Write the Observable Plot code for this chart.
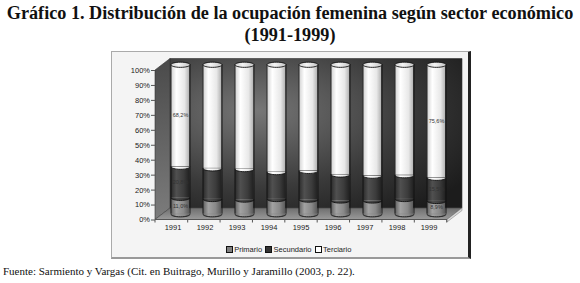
<!DOCTYPE html>
<html><head><meta charset="utf-8">
<script src="https://cdn.jsdelivr.net/npm/d3@7"></script>
<script src="https://cdn.jsdelivr.net/npm/@observablehq/plot@0.6"></script>
<style>
body{margin:0;width:580px;height:283px;background:#fff;position:relative;overflow:hidden;font-family:"Liberation Serif",serif;}
#title{position:absolute;left:0;top:2px;width:580px;text-align:center;font-weight:bold;font-size:17px;line-height:22px;color:#111;white-space:nowrap;}
#box{position:absolute;left:111px;top:51px;width:356px;height:205px;background:#f4f4f4;border-left:1px solid #aaa;border-top:1px solid #aaa;border-right:3px solid #222;border-bottom:2px solid #999;}
#chart{position:absolute;left:0;top:0;}
#legend{position:absolute;left:0;top:193px;width:356px;text-align:center;font:7.5px "Liberation Sans",Arial,sans-serif;color:#222;white-space:nowrap;}
#legend span.sw{display:inline-block;width:5px;height:5px;border:0.8px solid #111;margin:0 1.5px 0 0;vertical-align:-0.5px;}
#legend span.it{margin-right:3px;}
#source{position:absolute;left:3px;top:265px;font-size:11px;color:#111;white-space:nowrap;}
</style></head>
<body>
<div id="title"><div id="t1">Gráfico 1. Distribución de la ocupación femenina según sector económico</div><div>(1991-1999)</div></div>
<div id="box"><div id="chart"></div><div id="legend"></div></div>
<div id="source">Fuente: Sarmiento y Vargas (Cit. en Buitrago, Murillo y Jaramillo (2003, p. 22).</div>
<script>
// ---- data ----
const years = ["1991","1992","1993","1994","1995","1996","1997","1998","1999"];
const sectors = ["Primario","Secundario","Terciario"];
const primario   = [11.0, 10.2, 9.8, 10.2, 9.8, 9.2, 9.2, 10.2, 8.9];
const secundario = [20.8, 20.5, 20.4, 18.0, 19.2, 17.4, 16.6, 15.9, 15.5];
const terciario  = [68.2, 69.3, 69.8, 71.8, 71.0, 73.4, 74.2, 73.9, 75.6];
const labelYears = ["1991","1999"];
const yTicks = [0,10,20,30,40,50,60,70,80,90,100];

const series = [primario, secundario, terciario];
const rows = [];
years.forEach((yr, i) => sectors.forEach((s, j) => rows.push({year: yr, sector: s, value: series[j][i]})));
const totals = years.map((yr, i) => ({year: yr, total: primario[i] + secundario[i] + terciario[i]}));

// ---- style constants ----
const W = 356, H = 185, ML = 43, MR = 21, MT = 18, MB = 17.5, PAD = 0.02;
const DEPTH_X = 15, DEPTH_Y = -11.5;          // 3D depth of the walls
const DX = DEPTH_X / 2, DY = DEPTH_Y / 2;     // cylinders sit mid-depth
const RX = 9.5, RY = 2.6;                    // cylinder radius / ellipse
const fills = ["url(#gP)", "url(#gS)", "url(#gT)"];

const bw = Plot.scale({x: {type: "band", domain: years, range: [ML, W - MR], padding: PAD}}).bandwidth;
const inset = (bw - 2 * RX) / 2;

const K = 0.5523;
const arcSym = {draw(ctx) {
  ctx.moveTo(-RX, 0);
  ctx.bezierCurveTo(-RX, RY * K, -RX * K, RY, 0, RY);
  ctx.bezierCurveTo(RX * K, RY, RX, RY * K, RX, 0);
}};
const capSym = {draw(ctx) {
  ctx.moveTo(-RX, 0);
  ctx.bezierCurveTo(-RX, RY * K, -RX * K, RY, 0, RY);
  ctx.bezierCurveTo(RX * K, RY, RX, RY * K, RX, 0);
  ctx.bezierCurveTo(RX, -RY * K, RX * K, -RY, 0, -RY);
  ctx.bezierCurveTo(-RX * K, -RY, -RX, -RY * K, -RX, 0);
  ctx.closePath();
}};
const fmt = v => v.toFixed(1).replace(".", ",") + "%";

const chart = Plot.plot({
  width: W, height: H,
  marginLeft: ML, marginRight: MR, marginTop: MT, marginBottom: MB,
  x: {type: "band", domain: years, padding: PAD, label: null},
  y: {domain: [0, 100], label: null},
  color: {domain: sectors, range: fills},
  style: {background: "transparent", fontFamily: "'Liberation Sans', Arial, sans-serif", fontSize: "7.5px", color: "#222", overflow: "visible"},
  marks: [
    Plot.barY(rows, Plot.stackY({x: "year", y: "value", fill: "sector", insetLeft: inset, insetRight: inset, dx: DX, dy: DY})),
    Plot.dot(rows, Plot.stackY1({x: "year", y: "value", fill: "sector", symbol: arcSym, r: 4, stroke: "#111", strokeWidth: 0.9, dx: DX, dy: DY})),
    Plot.ruleX(totals, {x: "year", y1: 0, y2: "total", dx: DX - RX, dy: DY, stroke: "#111", strokeWidth: 0.9}),
    Plot.ruleX(totals, {x: "year", y1: 0, y2: "total", dx: DX + RX, dy: DY, stroke: "#111", strokeWidth: 0.9}),
    Plot.dot(totals, {x: "year", y: "total", symbol: capSym, r: 4, fill: "url(#gCap)", stroke: "#111", strokeWidth: 0.9, dx: DX, dy: DY}),
    Plot.text(rows.filter(d => labelYears.includes(d.year)), Plot.stackY({x: "year", y: "value", text: d => fmt(d.value), dx: DX, dy: DY, fontSize: 5.5, fill: "#333"})),
    Plot.axisY({ticks: yTicks, tickFormat: d => d + "%", tickSize: 4, tickPadding: 1.5, label: null, stroke: "#555"}),
    Plot.axisX({tickSize: 0, tickPadding: 5, label: null})
  ]
});
document.getElementById("chart").appendChild(chart);

// ---- decorations: gradients, 3D walls, floor ----
const svg = d3.select(chart);
const defs = svg.insert("defs", ":first-child");
function lin(id, stops, vertical) {
  const g = defs.append("linearGradient").attr("id", id)
    .attr("x1", 0).attr("y1", 0).attr("x2", vertical ? 0 : 1).attr("y2", vertical ? 1 : 0);
  stops.forEach(([o, c]) => g.append("stop").attr("offset", o).attr("stop-color", c));
}
lin("gP", [[0, "#5e5e5e"], [0.3, "#a2a2a2"], [0.7, "#888"], [1, "#5a5a5a"]]);
lin("gS", [[0, "#2a2a2a"], [0.3, "#505050"], [0.7, "#3c3c3c"], [1, "#222"]]);
lin("gT", [[0, "#d0d0d0"], [0.3, "#ffffff"], [0.75, "#e8e8e8"], [1, "#b4b4b4"]]);
lin("gCap", [[0, "#cfcfcf"], [0.4, "#f4f4f4"], [1, "#c4c4c4"]]);
lin("gLeft", [[0, "#4a4a4a"], [1, "#7c7c7c"]], true);
lin("gFloor", [[0, "#6e6e6e"], [1, "#9a9a9a"]], true);
const rg = defs.append("radialGradient").attr("id", "gBack").attr("cx", 0.3).attr("cy", 0.35).attr("r", 0.85);
rg.append("stop").attr("offset", 0).attr("stop-color", "#777");
rg.append("stop").attr("offset", 0.6).attr("stop-color", "#3a3a3a");
rg.append("stop").attr("offset", 1).attr("stop-color", "#1c1c1c");

const xs = chart.scale("x"), ys = chart.scale("y");
const [xl, xr] = xs.range;
const [yb, yt] = ys.range;
const walls = svg.insert("g", "g");
const poly = pts => pts.map(p => p.join(",")).join(" ");
walls.append("polygon").attr("points", poly([[xl + DEPTH_X, yt + DEPTH_Y], [xr + DEPTH_X, yt + DEPTH_Y], [xr + DEPTH_X, yb + DEPTH_Y], [xl + DEPTH_X, yb + DEPTH_Y]]))
  .attr("fill", "url(#gBack)").attr("stroke", "#333").attr("stroke-width", 0.6);
walls.append("polygon").attr("points", poly([[xl, yb], [xl, yt], [xl + DEPTH_X, yt + DEPTH_Y], [xl + DEPTH_X, yb + DEPTH_Y]]))
  .attr("fill", "url(#gLeft)").attr("stroke", "#333").attr("stroke-width", 0.6);
walls.append("polygon").attr("points", poly([[xl, yb], [xr, yb], [xr + DEPTH_X, yb + DEPTH_Y], [xl + DEPTH_X, yb + DEPTH_Y]]))
  .attr("fill", "url(#gFloor)").attr("stroke", "#444").attr("stroke-width", 0.6);
walls.append("polygon").attr("points", poly([[xr, yb], [xr + DEPTH_X, yb + DEPTH_Y], [xr + DEPTH_X, yb + DEPTH_Y + 2.5], [xr, yb + 2.5]]))
  .attr("fill", "#d8d8d8").attr("stroke", "#777").attr("stroke-width", 0.5);
walls.append("line").attr("x1", xl).attr("x2", xr).attr("y1", yb).attr("y2", yb).attr("stroke", "#555").attr("stroke-width", 1);
const step = (xr - xl) / (years.length + PAD);
for (let i = 0; i <= years.length; i++) {
  const x = xl + step * (PAD / 2) + step * i - (i === 0 ? step * PAD / 2 : 0);
  walls.append("line").attr("x1", x).attr("x2", x).attr("y1", yb).attr("y2", yb + 3).attr("stroke", "#555");
}

// ---- legend ----
const legendColors = ["#808080", "#333", "#fff"];
document.getElementById("legend").innerHTML = sectors.map((s, i) =>
  `<span class="sw" style="background:${legendColors[i]}"></span><span class="it">${s}</span>`).join("");

// fit title width
const t1 = document.getElementById("t1");
const target = 567;
const wNow = t1.getBoundingClientRect().width;
const range = document.createRange(); range.selectNodeContents(t1);
const tw = range.getBoundingClientRect().width;
document.getElementById("title").style.fontSize = (17 * target / tw).toFixed(2) + "px";
</script>
</body></html>
